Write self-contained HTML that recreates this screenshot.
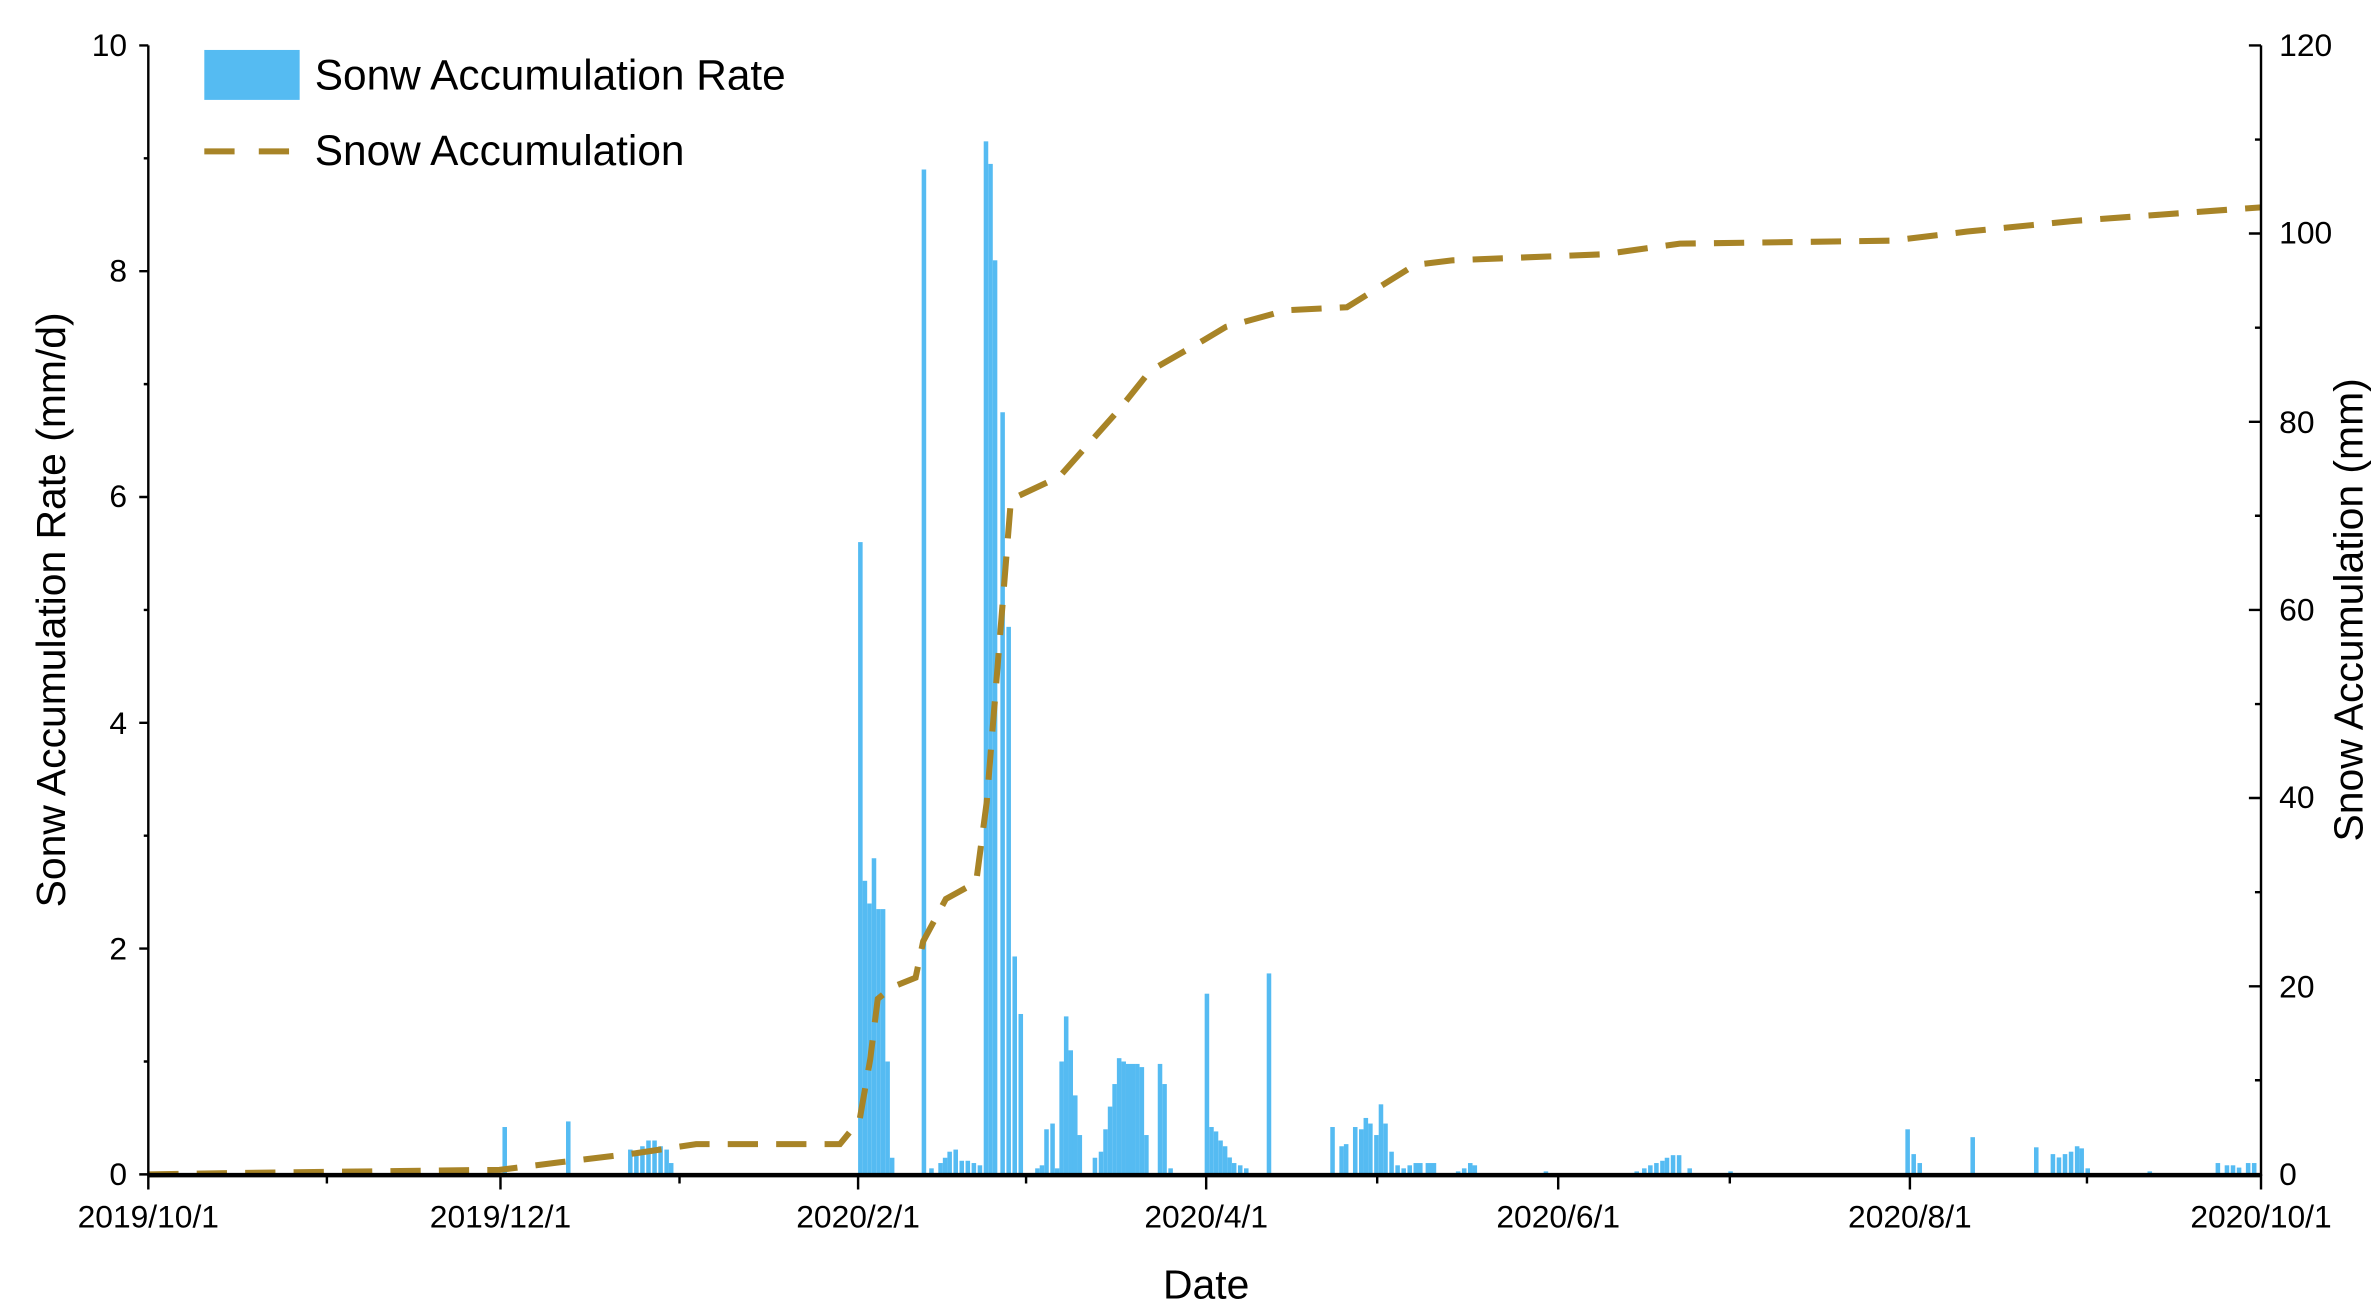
<!DOCTYPE html>
<html><head><meta charset="utf-8"><style>html,body{margin:0;padding:0;background:#fff}svg{display:block}</style></head>
<body>
<svg width="2373" height="1310" viewBox="0 0 1568 865.6" xmlns="http://www.w3.org/2000/svg" font-family="Liberation Sans, Arial, sans-serif">
<g fill="#55bbf2">
<rect x="332" y="744.7" width="3" height="31.3"/><rect x="374" y="741" width="3" height="35"/>
<rect x="415" y="759.6" width="3" height="16.4"/><rect x="419" y="761" width="3" height="15"/><rect x="423" y="757.4" width="3" height="18.6"/><rect x="427" y="753.6" width="3" height="22.4"/><rect x="431" y="753.6" width="3" height="22.4"/><rect x="435" y="757.4" width="3" height="18.6"/><rect x="439" y="759.6" width="3" height="16.4"/><rect x="442" y="768.5" width="3" height="7.5"/>
<rect x="567" y="358.2" width="3" height="417.8"/><rect x="570" y="582" width="3" height="194"/><rect x="573" y="597" width="3" height="179"/><rect x="576" y="567.1" width="3" height="208.9"/><rect x="579" y="600.7" width="3" height="175.3"/><rect x="582" y="600.7" width="3" height="175.3"/><rect x="585" y="701.4" width="3" height="74.6"/><rect x="588" y="765" width="3" height="11"/>
<rect x="609" y="112" width="3" height="664"/>
<rect x="614" y="772" width="3" height="4"/><rect x="620" y="768.5" width="3" height="7.5"/><rect x="623" y="765" width="3" height="11"/><rect x="626" y="761" width="3" height="15"/><rect x="630" y="759.6" width="3" height="16.4"/><rect x="634" y="767" width="3" height="9"/><rect x="638" y="767" width="3" height="9"/><rect x="642" y="768.5" width="3" height="7.5"/><rect x="646" y="770" width="3" height="6"/>
<rect x="650" y="93.4" width="3" height="682.6"/><rect x="653" y="108.3" width="3" height="667.7"/><rect x="656" y="172" width="3" height="604"/><rect x="661" y="272.4" width="3" height="503.6"/><rect x="665" y="414.2" width="3" height="361.8"/><rect x="669" y="632" width="3" height="144"/><rect x="673" y="670" width="3" height="106"/>
<rect x="684" y="772" width="3" height="4"/><rect x="687" y="770" width="3" height="6"/><rect x="690" y="746.2" width="3" height="29.8"/><rect x="694" y="742.4" width="3" height="33.6"/><rect x="697" y="772" width="3" height="4"/>
<rect x="700" y="701.4" width="3" height="74.6"/><rect x="703" y="671.6" width="3" height="104.4"/><rect x="706" y="694" width="3" height="82"/><rect x="709" y="723.8" width="3" height="52.2"/><rect x="712" y="750" width="3" height="26"/>
<rect x="722" y="765" width="3" height="11"/><rect x="726" y="761" width="3" height="15"/><rect x="729" y="746.2" width="3" height="29.8"/><rect x="732" y="731.2" width="3" height="44.8"/><rect x="735" y="716.3" width="3" height="59.7"/><rect x="738" y="699.2" width="3" height="76.8"/><rect x="741" y="701.4" width="3" height="74.6"/><rect x="744" y="703" width="3" height="73"/><rect x="747" y="703" width="3" height="73"/><rect x="750" y="703" width="3" height="73"/><rect x="753" y="705.1" width="3" height="70.9"/><rect x="756" y="750" width="3" height="26"/>
<rect x="765" y="703" width="3" height="73"/><rect x="768" y="716.3" width="3" height="59.7"/><rect x="772" y="772" width="3" height="4"/>
<rect x="796" y="656.6" width="3" height="119.4"/><rect x="799" y="744.7" width="3" height="31.3"/><rect x="802" y="747.6" width="3" height="28.4"/><rect x="805" y="753.6" width="3" height="22.4"/><rect x="808" y="757.4" width="3" height="18.6"/><rect x="811" y="764.8" width="3" height="11.2"/><rect x="814" y="768.5" width="3" height="7.5"/><rect x="818" y="770" width="3" height="6"/><rect x="822" y="772" width="3" height="4"/>
<rect x="837" y="643.2" width="3" height="132.8"/>
<rect x="879" y="744.7" width="3" height="31.3"/><rect x="885" y="757.4" width="3" height="18.6"/><rect x="888" y="756" width="3" height="20"/><rect x="894" y="744.7" width="3" height="31.3"/><rect x="898" y="746.2" width="3" height="29.8"/><rect x="901" y="738.7" width="3" height="37.3"/><rect x="904" y="742.4" width="3" height="33.6"/><rect x="908" y="750" width="3" height="26"/><rect x="911" y="729.7" width="3" height="46.3"/><rect x="914" y="742.4" width="3" height="33.6"/><rect x="918" y="761" width="3" height="15"/><rect x="922" y="770" width="3" height="6"/><rect x="926" y="772" width="3" height="4"/><rect x="930" y="770" width="3" height="6"/><rect x="934" y="768.5" width="6" height="7.5"/><rect x="942" y="768.5" width="7" height="7.5"/>
<rect x="962" y="774" width="3" height="2"/><rect x="966" y="772" width="3" height="4"/><rect x="970" y="768.5" width="3" height="7.5"/><rect x="973" y="770" width="3" height="6"/>
<rect x="1020" y="774" width="3" height="2"/>
<rect x="1080" y="774" width="3" height="2"/><rect x="1085" y="772" width="3" height="4"/><rect x="1089" y="770" width="3" height="6"/><rect x="1093" y="768.5" width="3" height="7.5"/><rect x="1097" y="767" width="3" height="9"/><rect x="1100" y="765" width="3" height="11"/><rect x="1104" y="763.3" width="3" height="12.7"/><rect x="1108" y="763.3" width="3" height="12.7"/><rect x="1115" y="772" width="3" height="4"/>
<rect x="1142" y="774" width="3" height="2"/>
<rect x="1259" y="746.2" width="3" height="29.8"/><rect x="1263" y="762.6" width="3" height="13.4"/><rect x="1267" y="768.5" width="3" height="7.5"/>
<rect x="1302" y="751.4" width="3" height="24.6"/>
<rect x="1344" y="758.1" width="3" height="17.9"/><rect x="1355" y="762.6" width="3" height="13.4"/><rect x="1359" y="764.8" width="3" height="11.2"/><rect x="1363" y="762.6" width="3" height="13.4"/><rect x="1367" y="761" width="3" height="15"/><rect x="1371" y="757.4" width="3" height="18.6"/><rect x="1374" y="758.8" width="3" height="17.2"/><rect x="1378" y="772" width="3" height="4"/>
<rect x="1419" y="774" width="3" height="2"/>
<rect x="1464" y="768.5" width="3" height="7.5"/><rect x="1470" y="770" width="3" height="6"/><rect x="1474" y="770" width="3" height="6"/><rect x="1478" y="771.5" width="3" height="4.5"/><rect x="1484" y="768.5" width="3" height="7.5"/><rect x="1488" y="768.5" width="3" height="7.5"/>
</g>
<polyline fill="none" stroke="#a88427" stroke-width="4" stroke-dasharray="20,12" points="98,776 160,775 330,773 370,768 420,762 460,756 555,756 568,740 575,700 580,660 590,652 605,646 610,622 625,594 645,583 652,530 660,430 668,330 700,315 740,270 760,245 795,225 810,216 850,205 890,203 935,175 960,172 1060,168 1110,161 1250,159 1300,153 1370,146 1494,137"/>
<g stroke="#000" stroke-width="1.6" fill="none">
<line x1="98" y1="30" x2="98" y2="777"/>
<line x1="1494" y1="30" x2="1494" y2="777"/>
<line x1="98" y1="776.5" x2="1494" y2="776.5" stroke-width="3"/>
<path d="M92,30H98M92,179.2H98M92,328.4H98M92,477.6H98M92,626.8H98M92,776H98"/>
<path d="M95,104.6H98M95,253.8H98M95,403H98M95,552.2H98M95,701.4H98"/>
<path d="M1486,30H1494M1486,154.3H1494M1486,278.7H1494M1486,403H1494M1486,527.3H1494M1486,651.7H1494M1486,776H1494"/>
<path d="M1490,92.2H1494M1490,216.5H1494M1490,340.8H1494M1490,465.2H1494M1490,589.5H1494M1490,713.8H1494"/>
<path d="M98,776V786M330.7,776V786M567,776V786M797,776V786M1029.6,776V786M1262,776V786M1494,776V786"/>
<path d="M216,776V782M449,776V782M678,776V782M910,776V782M1143,776V782M1379,776V782"/>
</g>
<g font-size="21" fill="#000" text-anchor="end">
<text x="84" y="37">10</text><text x="84" y="186">8</text><text x="84" y="335">6</text><text x="84" y="485">4</text><text x="84" y="634">2</text><text x="84" y="783">0</text>
</g>
<g font-size="21" fill="#000" text-anchor="start">
<text x="1506" y="37">120</text><text x="1506" y="161">100</text><text x="1506" y="286">80</text><text x="1506" y="410">60</text><text x="1506" y="534">40</text><text x="1506" y="659">20</text><text x="1506" y="783">0</text>
</g>
<g font-size="21" fill="#000" text-anchor="middle">
<text x="98" y="811">2019/10/1</text><text x="330.7" y="811">2019/12/1</text><text x="567" y="811">2020/2/1</text><text x="797" y="811">2020/4/1</text><text x="1029.6" y="811">2020/6/1</text><text x="1262" y="811">2020/8/1</text><text x="1494" y="811">2020/10/1</text>
</g>
<text x="797" y="858" font-size="27" text-anchor="middle">Date</text>
<text transform="translate(43,403) rotate(-90)" font-size="27" text-anchor="middle">Sonw Accumulation Rate (mm/d)</text>
<text transform="translate(1561,403) rotate(-90)" font-size="27" text-anchor="middle">Snow Accumulation (mm)</text>
<rect x="135" y="33" width="63" height="33" fill="#55bbf2"/>
<text x="208" y="59" font-size="28">Sonw Accumulation Rate</text>
<line x1="135" y1="100" x2="195" y2="100" stroke="#a88427" stroke-width="4" stroke-dasharray="20,16"/>
<text x="208" y="109" font-size="28">Snow Accumulation</text>
</svg>
</body></html>
